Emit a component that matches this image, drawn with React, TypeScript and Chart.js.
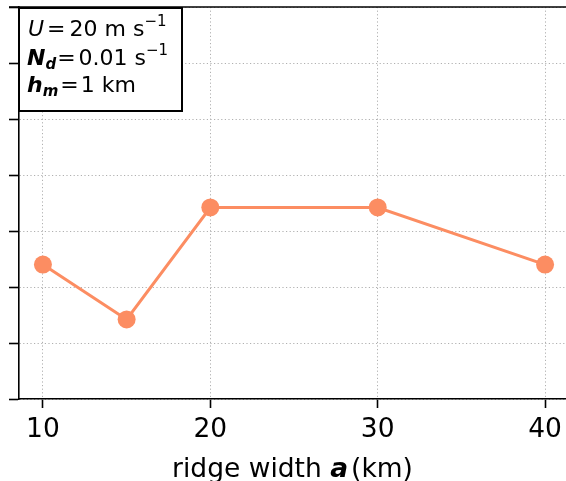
import React, { useEffect, useRef } from "react";
import { Chart, registerables } from "chart.js";

Chart.register(...registerables);

const WIDTHS = [10, 15, 20, 30, 40];
const VALUES = [2.4, 1.42, 3.42, 3.42, 2.4];
const X_TICKS = [10, 20, 30, 40];
const Y_MIN = 0;
const Y_MAX = 7;
const X_TITLE = ["ridge width ", "a", "(km)"];

const FONT = "'DejaVu Sans', sans-serif";

type Run = { t: string; f: string; dy?: number; pre?: number };

function drawRuns(ctx: CanvasRenderingContext2D, x: number, y: number, runs: Run[]) {
  let cx = x;
  for (const r of runs) {
    cx += r.pre || 0;
    ctx.font = r.f;
    ctx.fillText(r.t, cx, y + (r.dy || 0));
    cx += ctx.measureText(r.t).width;
  }
  return cx;
}

const overlayPlugin = {
  id: "overlay",
  afterDraw(chart: any) {
    const ctx: CanvasRenderingContext2D = chart.ctx;
    const area = chart.chartArea;
    ctx.save();
    // top spine
    ctx.strokeStyle = "#000";
    ctx.lineWidth = 1.6;
    ctx.beginPath();
    ctx.moveTo(area.left - 10, area.top);
    ctx.lineTo(chart.width, area.top);
    ctx.stroke();

    // annotation box
    const bx = area.left, by = area.top + 1, bw = 163, bh = 103;
    ctx.fillStyle = "#fff";
    ctx.fillRect(bx, by, bw, bh);
    ctx.lineWidth = 2;
    ctx.strokeRect(bx, by, bw, bh);

    ctx.fillStyle = "#000";
    ctx.textBaseline = "alphabetic";
    ctx.textAlign = "left";
    const n = `22px ${FONT}`;
    const it = `italic 22px ${FONT}`;
    const bi = `italic bold 22px ${FONT}`;
    const sub = `italic bold 15px ${FONT}`;
    const sup = `15px ${FONT}`;
    drawRuns(ctx, bx + 9, area.top + 29, [
      { t: "U", f: it },
      { t: "=", f: n, pre: 3 },
      { t: "20 m s", f: n, pre: 4 },
      { t: "−1", f: sup, dy: -10 },
    ]);
    drawRuns(ctx, bx + 8, area.top + 58, [
      { t: "N", f: bi },
      { t: "d", f: sub, dy: 4 },
      { t: "=", f: n, pre: 1 },
      { t: "0.01 s", f: n, pre: 3 },
      { t: "−1", f: sup, dy: -10 },
    ]);
    drawRuns(ctx, bx + 8, area.top + 85, [
      { t: "h", f: bi },
      { t: "m", f: sub, dy: 4 },
      { t: "=", f: n, pre: 2 },
      { t: "1 km", f: n, pre: 2 },
    ]);

    // x-axis title
    const f1 = `26.5px ${FONT}`;
    const f2 = `italic bold 26.5px ${FONT}`;
    ctx.font = f1;
    const w1 = ctx.measureText(X_TITLE[0]).width;
    const w3 = ctx.measureText(X_TITLE[2]).width;
    ctx.font = f2;
    const w2 = ctx.measureText(X_TITLE[1]).width;
    const total = w1 + w2 + w3 + 3;
    const cx = (area.left + area.right) / 2 - total / 2;
    drawRuns(ctx, cx, 477, [
      { t: X_TITLE[0], f: f1 },
      { t: X_TITLE[1], f: f2 },
      { t: X_TITLE[2], f: f1, pre: 3 },
    ]);
    ctx.restore();
  },
};

export default function App() {
  const ref = useRef<HTMLCanvasElement | null>(null);
  useEffect(() => {
    document.body.style.margin = "0";
    if (!ref.current) return;
    const chart = new Chart(ref.current, {
      type: "line",
      data: {
        datasets: [
          {
            data: WIDTHS.map((w, i) => ({ x: w, y: VALUES[i] })),
            borderColor: "#FC8D62",
            backgroundColor: "#FC8D62",
            borderWidth: 3,
            pointRadius: 9,
            pointHoverRadius: 9,
            pointBorderWidth: 0,
            tension: 0,
          },
        ],
      },
      options: {
        animation: false,
        responsive: true,
        maintainAspectRatio: false,
        layout: { autoPadding: false, padding: { top: 7, right: 0, left: 0, bottom: 0 } },
        plugins: { legend: { display: false }, tooltip: { enabled: false } },
        scales: {
          x: {
            type: "linear",
            min: 8.57,
            max: 41.25,
            afterBuildTicks: (s: any) => {
              s.ticks = X_TICKS.map((v) => ({ value: v }));
            },
            afterFit: (s: any) => {
              s.height = 82;
              s.paddingLeft = 0;
              s.paddingRight = 0;
            },
            ticks: {
              font: { family: FONT, size: 26.5 },
              color: "#000",
              padding: 6,
              maxRotation: 0,
              autoSkip: false,
            },
            grid: {
              color: "#b0b0b0",
              lineWidth: 1,
              tickColor: "#000",
              tickLength: 9,
              tickWidth: 1.6,
            },
            border: { color: "#000", width: 1.6, dash: [1.2, 2.4] },
          },
          y: {
            type: "linear",
            min: Y_MIN,
            max: Y_MAX,
            ticks: { display: false, stepSize: 1 },
            afterFit: (s: any) => {
              s.width = 19;
              s.paddingTop = 0;
              s.paddingBottom = 0;
            },
            grid: {
              color: "#b0b0b0",
              lineWidth: 1,
              tickColor: "#000",
              tickLength: 10,
              tickWidth: 1.6,
            },
            border: { color: "#000", width: 1.6, dash: [1.2, 2.4] },
          },
        },
      },
      plugins: [overlayPlugin],
    });
    return () => chart.destroy();
  }, []);
  return (
    <div style={{ width: 566, height: 481, position: "relative" }}>
      <canvas ref={ref} />
    </div>
  );
}
